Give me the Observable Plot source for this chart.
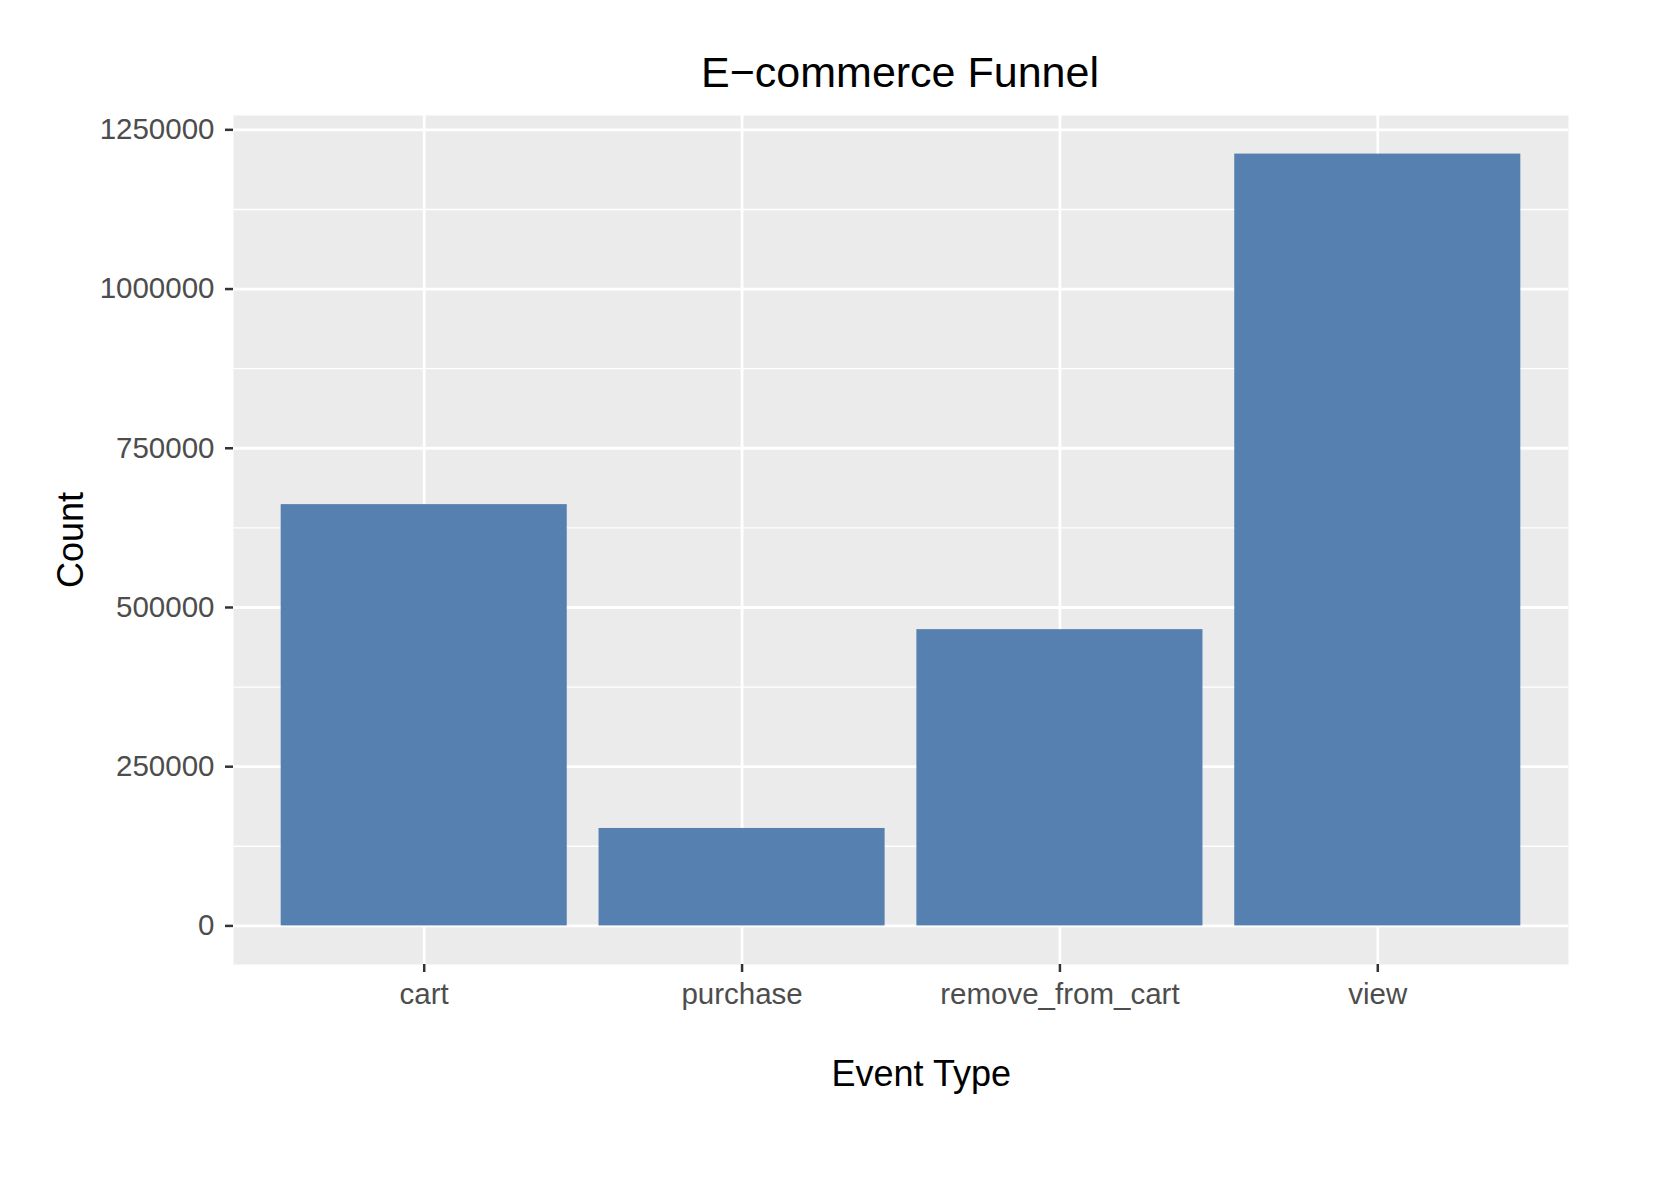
<!DOCTYPE html>
<html>
<head>
<meta charset="utf-8">
<script src="https://cdn.jsdelivr.net/npm/d3@7"></script>
<script src="https://cdn.jsdelivr.net/npm/@observablehq/plot@0.6"></script>
<style>
  html, body { margin: 0; padding: 0; background: #ffffff; }
  #wrap { width: 1660px; height: 1196px; position: relative; overflow: hidden; background: #ffffff; }
  #title {
    box-sizing: border-box; height: 100px; width: 1660px;
    padding-top: 48px; padding-left: 140px; text-align: center;
    font-family: "Liberation Sans", Arial, sans-serif; font-size: 43px; line-height: normal; color: #000;
    white-space: nowrap;
  }
  #chart svg { display: block; }
</style>
</head>
<body>
<div id="wrap">
  <div id="title">E−commerce Funnel</div>
  <div id="chart"></div>
</div>
<script>
// ---- data ----
const categories = ["cart", "purchase", "remove_from_cart", "view"];
const counts = [661500, 153000, 465200, 1211900];
const yTicks = [0, 250000, 500000, 750000, 1000000, 1250000];
const yMinorTicks = [125000, 375000, 625000, 875000, 1125000];
const xLabel = "Event Type";
const yLabel = "Count";

const data = categories.map((c, i) => ({event: c, count: counts[i]}));
const maxCount = d3.max(counts);

const chart = Plot.plot({
  width: 1660,
  height: 1096,
  marginTop: 15,
  marginBottom: 232,
  marginLeft: 233,
  marginRight: 92,
  style: {fontFamily: "'Liberation Sans', Arial, sans-serif", background: "#ffffff", overflow: "visible"},
  x: {domain: categories, paddingInner: 0.1, paddingOuter: 0.15, round: false, label: null},
  y: {domain: [-0.05 * maxCount, 1.05 * maxCount], label: null},
  marks: [
    Plot.frame({fill: "#EBEBEB", stroke: null}),
    Plot.gridY(yMinorTicks, {stroke: "#ffffff", strokeOpacity: 1, strokeWidth: 1.4}),
    Plot.gridY(yTicks, {stroke: "#ffffff", strokeOpacity: 1, strokeWidth: 2.8}),
    Plot.gridX(categories, {stroke: "#ffffff", strokeOpacity: 1, strokeWidth: 2.8}),
    Plot.barY(data, {x: "event", y: "count", fill: "#5580B0"}),
    Plot.axisY(yTicks, {tickSize: 8, tickPadding: 11, fontSize: 29.5, stroke: "#333333", strokeWidth: 2.5, fill: "#4D4D4D", tickFormat: d3.format("d"), label: null}),
    Plot.axisX({tickSize: 8, tickPadding: 11, fontSize: 29.5, stroke: "#333333", strokeWidth: 2.5, fill: "#4D4D4D", label: null}),
    Plot.text([yLabel], {frameAnchor: "left", dx: -162.3, rotate: -90, text: d => d, fontSize: 36, fill: "#000000", textAnchor: "middle", lineAnchor: "middle"}),
    Plot.text([xLabel], {frameAnchor: "bottom", dx: 20.3, dy: 121, text: d => d, fontSize: 36, fill: "#000000", textAnchor: "middle", lineAnchor: "bottom"})
  ]
});
document.getElementById("chart").appendChild(chart);
</script>
</body>
</html>
